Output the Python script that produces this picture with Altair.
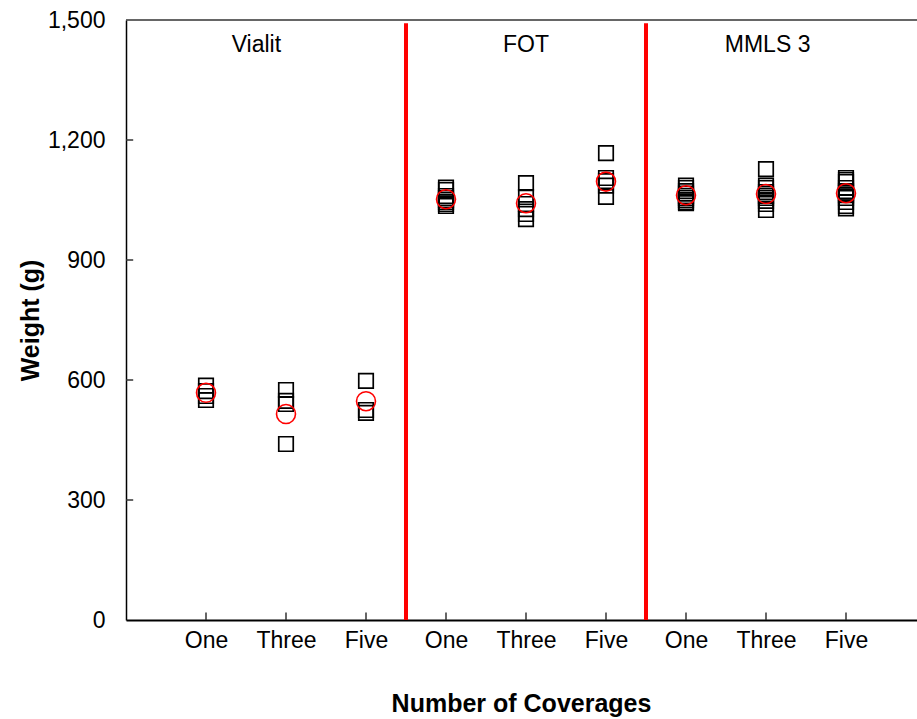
import json
import altair as alt
import pandas as pd

# Panels and coverage levels along the x axis
groups = ["Vialit", "FOT", "MMLS 3"]
coverages = ["One", "Three", "Five"]
group_label_pos = [1.63, 5.0, 8.02]
separators = [3.5, 6.5]

# Individual specimen weights (g) for each panel / coverage combination
vialit_one = [586, 572, 560, 550]
vialit_three = [575, 548, 540, 440]
vialit_five = [598, 525, 518]
fot_one = [1081, 1075, 1060, 1055, 1050, 1045, 1040, 1035]
fot_three = [1092, 1057, 1040, 1027, 1015, 1002]
fot_five = [1167, 1105, 1097, 1086, 1058]
mmls_one = [1086, 1080, 1072, 1066, 1060, 1055, 1050, 1045, 1042]
mmls_three = [1127, 1086, 1080, 1070, 1065, 1060, 1055, 1048, 1040, 1025]
mmls_five = [1105, 1100, 1095, 1080, 1072, 1068, 1062, 1055, 1045, 1035, 1029]

# Average weight for each combination
mean_weights = [568, 515, 547, 1052, 1042, 1096, 1062, 1065, 1067]

y_ticks = [0, 300, 600, 900, 1200, 1500]
inner_y_ticks = [300, 600, 900, 1200]

series = [vialit_one, vialit_three, vialit_five,
          fot_one, fot_three, fot_five,
          mmls_one, mmls_three, mmls_five]
positions = list(range(1, len(series) + 1))

points = pd.DataFrame(
    [{"pos": p, "weight": w} for p, vals in zip(positions, series) for w in vals]
)
means = pd.DataFrame({"pos": positions, "weight": mean_weights})
seps = pd.DataFrame({"pos": separators, "y0": [0, 0], "y1": [1492, 1492]})
panel_text = pd.DataFrame({"pos": group_label_pos, "name": groups, "y": [1437] * 3})
xticks = pd.DataFrame({"pos": positions, "y0": [0] * 9, "y1": [19] * 9})
yticks = pd.DataFrame({"weight": inner_y_ticks, "x0": [0] * 4, "x1": [0.09] * 4})

FONT = "Liberation Sans"
XMAX = 791 / 80
top_border = pd.DataFrame({"x0": [0], "x1": [XMAX], "weight": [1500]})

x_scale = alt.Scale(domain=[0, XMAX], nice=False, zero=False)
y_scale = alt.Scale(domain=[0, 1500], nice=False)

label_expr = json.dumps(coverages) + "[(datum.value - 1) % 3]"

x_axis = alt.Axis(
    values=positions, labelExpr=label_expr, ticks=False, grid=False,
    domainColor="black", domainWidth=2, labelFont=FONT, labelFontSize=23,
    labelColor="black", labelPadding=9, title="Number of Coverages",
    titleFont=FONT, titleFontSize=25, titleFontWeight="bold", titleColor="black",
    titleX=395, titleY=83, titleAlign="center", titleBaseline="middle",
)
y_axis = alt.Axis(
    values=y_ticks, format=",d", ticks=False, grid=False,
    domainColor="black", domainWidth=1.5, labelFont=FONT, labelFontSize=23,
    labelColor="black", labelPadding=21, title="Weight (g)",
    titleFont=FONT, titleFontSize=25, titleFontWeight="bold", titleColor="black",
    titleX=-96, titleY=300, titleAngle=-90, titleAlign="center",
    titleBaseline="middle",
)

base_x = alt.X("pos:Q", scale=x_scale, axis=x_axis)
base_y = alt.Y("weight:Q", scale=y_scale, axis=y_axis)

squares = alt.Chart(points).mark_point(
    shape="square", filled=False, size=210, stroke="black", strokeWidth=1.7,
    opacity=1,
).encode(x=base_x, y=base_y)

circles = alt.Chart(means).mark_point(
    shape="circle", filled=False, size=360, stroke="#ff0000", strokeWidth=1.6,
    opacity=1,
).encode(x=alt.X("pos:Q", scale=x_scale), y=alt.Y("weight:Q", scale=y_scale))

sep_rules = alt.Chart(seps).mark_rule(color="#ff0000", strokeWidth=4).encode(
    x=alt.X("pos:Q", scale=x_scale),
    y=alt.Y("y0:Q", scale=y_scale),
    y2="y1:Q",
)

x_tick_rules = alt.Chart(xticks).mark_rule(color="#333333", strokeWidth=1.5).encode(
    x=alt.X("pos:Q", scale=x_scale),
    y=alt.Y("y0:Q", scale=y_scale),
    y2="y1:Q",
)

y_tick_rules = alt.Chart(yticks).mark_rule(color="#333333", strokeWidth=1.5).encode(
    x=alt.X("x0:Q", scale=x_scale),
    x2="x1:Q",
    y=alt.Y("weight:Q", scale=y_scale),
)

top_rule = alt.Chart(top_border).mark_rule(color="#333333", strokeWidth=1.3).encode(
    x=alt.X("x0:Q", scale=x_scale),
    x2="x1:Q",
    y=alt.Y("weight:Q", scale=y_scale),
)

labels = alt.Chart(panel_text).mark_text(
    font=FONT, fontSize=23, color="black", baseline="middle", align="center",
).encode(
    x=alt.X("pos:Q", scale=x_scale),
    y=alt.Y("y:Q", scale=y_scale),
    text="name:N",
)

chart = alt.layer(
    top_rule, x_tick_rules, y_tick_rules, squares, circles, sep_rules, labels
).properties(
    width=791, height=600,
    autosize=alt.AutoSizeParams(type="none"),
    padding={"left": 126, "top": 20, "right": 0, "bottom": 99},
    background="white",
).configure_view(stroke=None)

chart.save("out.html", embed_options={"renderer": "svg", "actions": False})
